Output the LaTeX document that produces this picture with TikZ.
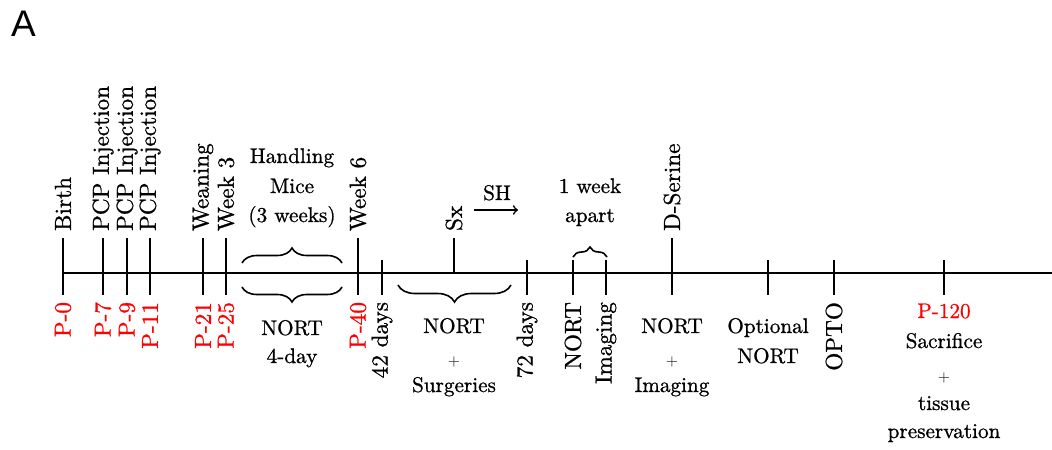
\documentclass[tikz,border=0pt]{standalone}
\usepackage{fontspec}
\newfontfamily\panelfont{Liberation Sans}
\newfontfamily\labelfont{lmroman10-regular.otf}[FakeBold=0.9]
\usetikzlibrary{decorations.pathreplacing}
\begin{document}
\begin{tikzpicture}[x=0.5pt,y=-0.5pt,
  axisline/.style={line width=1pt},
  tickline/.style={line width=1pt},
  bracestyle/.style={decorate, decoration={brace,amplitude=#1}, line width=0.8pt},
  lowbrace/.style={decorate, decoration={brace,mirror,amplitude=#1}, line width=0.8pt},
  uplab/.style={rotate=90, anchor=west, font=\labelfont\fontsize{11.6}{13}\selectfont},
  lowlab/.style={rotate=90, anchor=east, font=\labelfont\fontsize{11.6}{13}\selectfont},
  pday/.style={lowlab, text=red},
  txt/.style={anchor=base, inner sep=0pt, font=\labelfont\fontsize{10.6}{13}\selectfont},
  plus/.style={anchor=base, inner sep=0pt, text=black!85, font=\fontsize{7}{8}\selectfont},
]
\useasboundingbox (0,0) rectangle (1052,449);

% panel letter
\node[anchor=base, inner sep=0pt, font=\panelfont\fontsize{18.5}{20}\selectfont] (panel) at (23.5,37) {A};

% time axis
\coordinate (axL) at (63,273);
\coordinate (axR) at (1058,273);
\draw[axisline,->] (axL) -- (axR);

% long ticks
\coordinate (birthT) at (63,238);   \coordinate (birthB) at (63,295);
\coordinate (pcpaT) at (103,238);   \coordinate (pcpaB) at (103,295);
\coordinate (pcpbT) at (127,238);   \coordinate (pcpbB) at (127,295);
\coordinate (pcpcT) at (150,238);   \coordinate (pcpcB) at (150,295);
\coordinate (weanT) at (203,238);   \coordinate (weanB) at (203,295);
\coordinate (wkthreeT) at (226,238); \coordinate (wkthreeB) at (226,295);
\coordinate (wksixT) at (358,238);  \coordinate (wksixB) at (358,295);
\coordinate (dserT) at (672,238);   \coordinate (dserB) at (672,295);
% short ticks
\coordinate (fortytwoT) at (382,260); \coordinate (fortytwoB) at (382,295);
\coordinate (seventytwoT) at (527,260); \coordinate (seventytwoB) at (527,295);
\coordinate (nortT) at (573,260);   \coordinate (nortB) at (573,295);
\coordinate (imgT) at (606,260);    \coordinate (imgB) at (606,295);
\coordinate (optT) at (768,260);    \coordinate (optB) at (768,295);
\coordinate (optoT) at (834,260);   \coordinate (optoB) at (834,295);
\coordinate (sacT) at (944,260);    \coordinate (sacB) at (944,295);
% surgery tick (above the axis only)
\coordinate (sxT) at (454,238);     \coordinate (sxB) at (454,274);

\foreach \t in {birth,pcpa,pcpb,pcpc,wean,wkthree,wksix,dser,
                fortytwo,seventytwo,nort,img,opt,opto,sac,sx}
  \draw[tickline] (\t T) -- (\t B);

% labels above the axis
\node[uplab] (birthL) at (birthT) {Birth};
\node[uplab] (pcpaL) at (pcpaT) {PCP Injection};
\node[uplab] (pcpbL) at (pcpbT) {PCP Injection};
\node[uplab] (pcpcL) at (pcpcT) {PCP Injection};
\node[uplab] (weanL) at (weanT) {Weaning};
\node[uplab] (wkthreeL) at (wkthreeT) {Week 3};
\node[uplab] (wksixL) at (wksixT) {Week 6};
\node[uplab] (sxL) at (sxT) {Sx};
\node[uplab] (dserL) at (dserT) {D-Serine};

% postnatal days below the axis
\node[pday] (p0) at (birthB) {P-0};
\node[pday] (p7) at (pcpaB) {P-7};
\node[pday] (p9) at (pcpbB) {P-9};
\node[pday] (p11) at (pcpcB) {P-11};
\node[pday] (p21) at (weanB) {P-21};
\node[pday] (p25) at (wkthreeB) {P-25};
\node[pday] (p40) at (wksixB) {P-40};
\node[lowlab] (fortytwoL) at (fortytwoB) {42 days};
\node[lowlab] (seventytwoL) at (seventytwoB) {72 days};
\node[lowlab] (nortL) at (nortB) {NORT};
\node[lowlab] (imgL) at (imgB) {Imaging};
\node[lowlab] (optoL) at (optoB) {OPTO};

% handling period
\coordinate (hdA) at (242,263); \coordinate (hdB) at (342,263);
\draw[bracestyle=7.5pt] (hdA) -- (hdB);
\node[txt] (hdone) at (292,163) {Handling};
\node[txt] (hdtwo) at (292,193) {Mice};
\node[txt] (hdthree) at (292,222) {(3 weeks)};
\coordinate (ntA) at (242,287); \coordinate (ntB) at (342,287);
\draw[lowbrace=7.5pt] (ntA) -- (ntB);
\node[txt] (ntone) at (292,335) {NORT};
\node[txt] (nttwo) at (292,363) {4-day};

% surgeries period
\coordinate (sgA) at (398,285); \coordinate (sgB) at (511,285);
\draw[lowbrace=8.5pt] (sgA) -- (sgB);
\node[txt] (sgone) at (454,333) {NORT};
\node[plus] (sgtwo) at (454,365.5) {+};
\node[txt] (sgthree) at (454,392) {Surgeries};

% single housing arrow
\coordinate (shA) at (474,210); \coordinate (shB) at (518,210);
\draw[line width=0.8pt,->] (shA) -- (shB);
\node[txt] (shL) at (497,200) {SH};

% one week between NORT and imaging
\coordinate (wkA) at (573,257); \coordinate (wkB) at (607,257);
\draw[bracestyle=5pt] (wkA) -- (wkB);
\node[txt] (wkone) at (590,193) {1 week};
\node[txt] (wktwo) at (590,222) {apart};

% later sessions
\node[txt] (dsone) at (672,333) {NORT};
\node[plus] (dstwo) at (672,365.5) {+};
\node[txt] (dsthree) at (672,392) {Imaging};

\node[txt] (opone) at (768,333) {Optional};
\node[txt] (optwo) at (768,363) {NORT};

\node[txt, text=red] (scone) at (944,318) {P-120};
\node[txt] (sctwo) at (944,348) {Sacrifice};
\node[plus] (scthree) at (944,381.5) {+};
\node[txt] (scfour) at (944,410) {tissue};
\node[txt] (scfive) at (944,438) {preservation};
\end{tikzpicture}
\end{document}
